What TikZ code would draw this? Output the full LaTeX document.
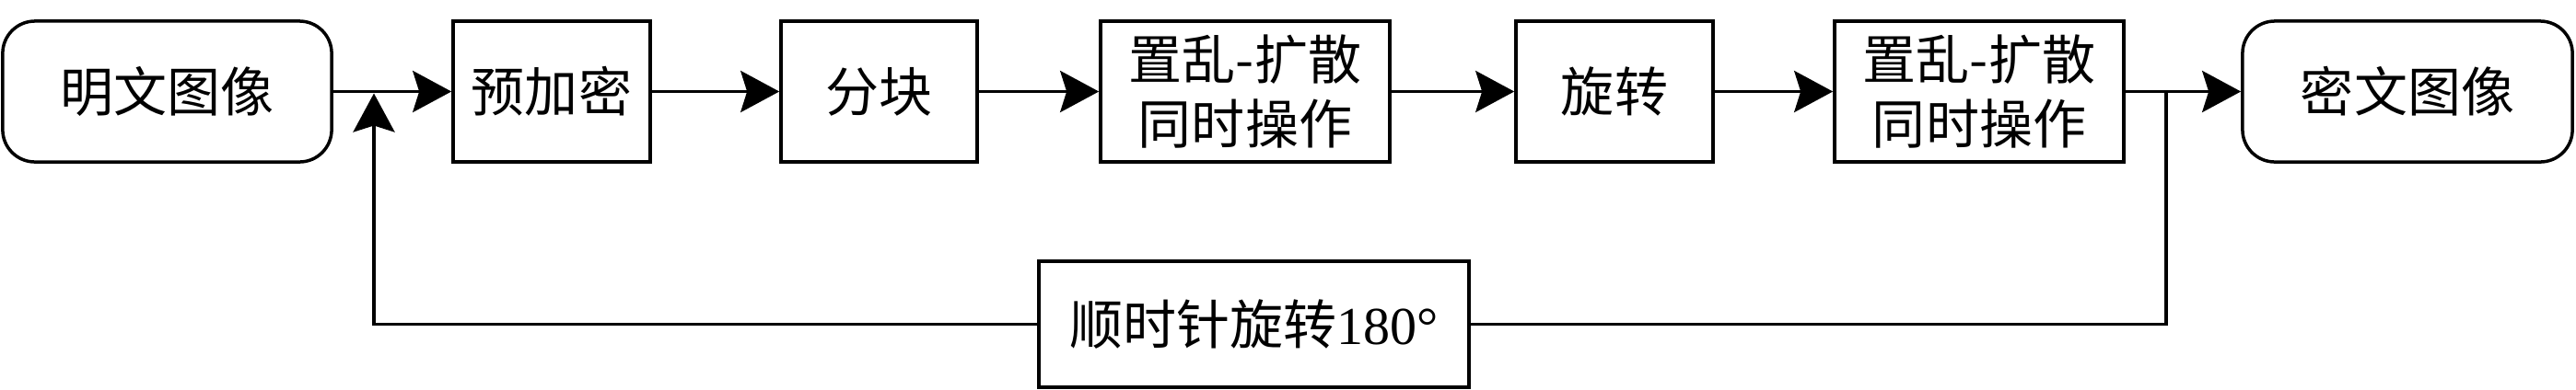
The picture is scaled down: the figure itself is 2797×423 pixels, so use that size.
\documentclass[tikz,border=0pt]{standalone}
\usepackage{fontspec}
\setmainfont{Noto Sans CJK SC}
\newfontfamily\serifdigits{Liberation Serif}
\usetikzlibrary{arrows.meta}
\begin{document}
\begin{tikzpicture}[x=0.01cm,y=0.01cm,
  font=\fontsize{16.5pt}{19.9pt}\selectfont,
  line width=0.035cm,
  box/.style={draw, rectangle, minimum height=1.53cm, inner sep=0pt, align=center},
  term/.style={box, rounded corners=0.35cm},
  arr/.style={-{Stealth[length=0.42cm,width=0.45cm,inset=0.07cm]}}]
\useasboundingbox (0,0) rectangle (2797,423);
\node[term, minimum width=3.57cm] (plain) at (181.5,323.5) {明文图像};
\node[box, minimum width=2.14cm] (pre) at (599,323.5) {预加密};
\node[box, minimum width=2.13cm] (blk) at (954.5,323.5) {分块};
\node[box, minimum width=3.14cm] (sd1) at (1352,323.5) {置乱-扩散\\同时操作};
\node[box, minimum width=2.14cm] (rot) at (1753,323.5) {旋转};
\node[box, minimum width=3.14cm] (sd2) at (2149,323.5) {置乱-扩散\\同时操作};
\node[term, minimum width=3.58cm] (cipher) at (2614,323.5) {密文图像};
\node[box, minimum width=4.67cm, minimum height=1.37cm] (r180) at (1361.5,70.5) {顺时针旋转{\serifdigits 180°}};
\coordinate (j) at (406,323.5);
\coordinate (br) at (2352,323.5);
\coordinate (bl) at (406,70.5);
\coordinate (brb) at (2352,70.5);
\draw[arr] (plain) -- (pre);
\draw[arr] (pre) -- (blk);
\draw[arr] (blk) -- (sd1);
\draw[arr] (sd1) -- (rot);
\draw[arr] (rot) -- (sd2);
\draw[arr] (sd2) -- (cipher);
\draw (br) -- (brb) -- (r180);
\draw[arr, shorten >=0.02cm] (r180) -- (bl) -- (j);
\end{tikzpicture}
\end{document}
